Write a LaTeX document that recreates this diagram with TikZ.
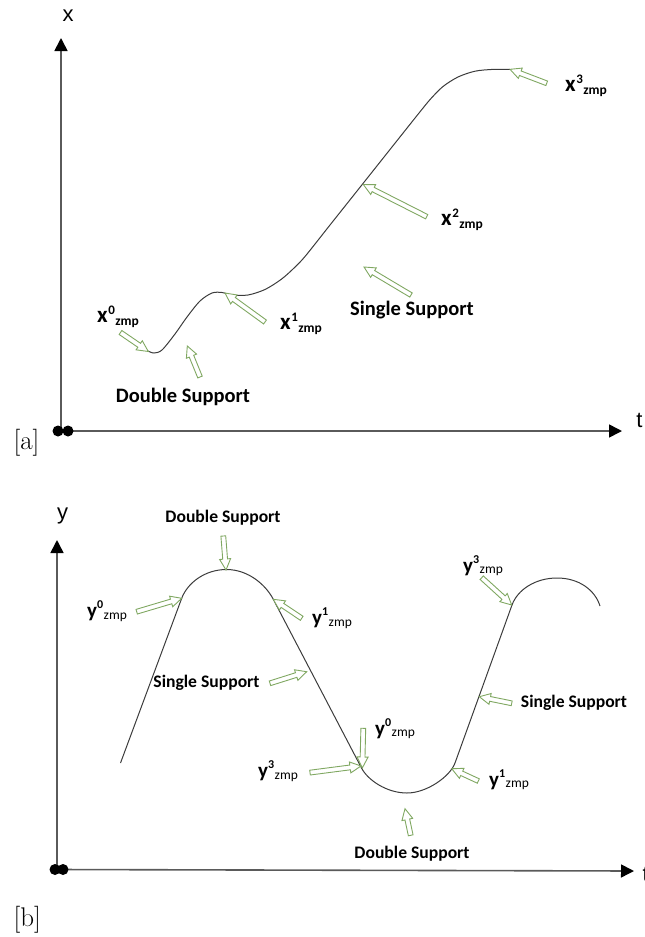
\documentclass[tikz,border=0pt]{standalone}
\usepackage{fontspec}
\newfontfamily\lblfont{Carlito}
\newfontfamily\axfont{Liberation Sans}
\usetikzlibrary{arrows.meta,calc}
\definecolor{garr}{RGB}{128,168,98}
\definecolor{curvec}{RGB}{60,60,60}
\definecolor{axisc}{RGB}{90,90,90}
\newcommand{\garrow}[2]{%
  \path let \p1=($(#2)-(#1)$) in \pgfextra{%
    \pgfmathparse{atan2(\y1,\x1)}\xdef\gAng{\pgfmathresult}%
    \pgfmathparse{veclen(\x1,\y1)}\xdef\gLen{\pgfmathresult}};
  \begin{scope}[shift={(#1)},rotate=\gAng]
    \draw[garrowline] (0pt,-2.4pt) -- ({\gLen pt-11pt},-2.4pt) -- ({\gLen pt-11pt},-5.5pt) -- (\gLen pt,0pt) -- ({\gLen pt-11pt},5.5pt) -- ({\gLen pt-11pt},2.4pt) -- (0pt,2.4pt) -- cycle;
  \end{scope}}
\newcommand{\zlA}[2]{{\bfseries\fontsize{23}{24}\selectfont #1}\hspace{0.5pt}\raisebox{8pt}{\bfseries\fontsize{13}{14}\selectfont #2}\hspace{0.5pt}\raisebox{-3pt}{\bfseries\fontsize{13.5}{14}\selectfont zmp}}
\newcommand{\zlB}[2]{{\bfseries\fontsize{21}{22}\selectfont #1}\raisebox{9pt}{\bfseries\fontsize{12}{13}\selectfont #2}\hspace{0.5pt}\raisebox{-1.5pt}{\fontsize{13.5}{14}\selectfont zmp}}
\begin{document}
\begin{tikzpicture}[x=1pt,y=-1pt,
  axisline/.style={line width=1.6pt, draw=axisc, -{Triangle[length=13pt,width=13pt,color=black]}},
  curveline/.style={line width=1pt, draw=curvec},
  garrowline/.style={draw=garr, line width=0.9pt, fill=white, line join=miter},
  bigtxt/.style={font=\lblfont\bfseries\fontsize{20.5}{22}\selectfont, inner sep=0pt},
  midtxt/.style={font=\lblfont\bfseries\fontsize{17.6}{19}\selectfont, inner sep=0pt},
  zlbl/.style={font=\lblfont, inner sep=0pt, anchor=base west},
  axlbl/.style={font=\axfont\fontsize{22}{24}\selectfont, inner sep=0pt, anchor=base},
  tagtxt/.style={font=\fontsize{27}{29}\selectfont, inner sep=0pt, anchor=base}]
\useasboundingbox (0,0) rectangle (645,937);
% ================= panel a =================
\coordinate (oa) at (61,431);
\coordinate (yta) at (61,38);
\coordinate (xta) at (622,431);
\draw[axisline] (oa) -- (yta);
\draw[axisline] (oa) -- (xta);
\fill (58,431) circle (5.5pt);
\fill (68,431) circle (5.5pt);
\node[axlbl] (labx) at (68,21) {x};
\node[axlbl] (labt) at (639.5,427) {t};
\node[tagtxt] (taga) at (26.5,449) {[a]};
\draw[curveline] plot[smooth, tension=0.5] coordinates {(148,351) (154,353) (162,350) (175,334) (187,317) (200,301) (212,293) (222,292.5) (232,295) (248,295) (265,289.5) (281,279.5) (293,269) (305,256.5) (330,225) (363,183.5) (395,143.2) (420,111.8) (431,98.5) (443,86.5) (458,77) (475,71.2) (493,69.4) (510,69.5)};
% arrows a
\coordinate (a0t) at (120.5,332.5); \coordinate (a0h) at (148.3,351.5);
\coordinate (aDt) at (200,377);     \coordinate (aDh) at (187.3,346);
\coordinate (a1t) at (265,322);     \coordinate (a1h) at (225,293);
\coordinate (aSt) at (411,295);     \coordinate (aSh) at (364,267);
\coordinate (a2t) at (426.7,216.7); \coordinate (a2h) at (363.3,184.5);
\coordinate (a3t) at (546.7,83.3);  \coordinate (a3h) at (510,69.3);
\garrow{a0t}{a0h}
\garrow{aDt}{aDh}
\garrow{a1t}{a1h}
\garrow{aSt}{aSh}
\garrow{a2t}{a2h}
\garrow{a3t}{a3h}
\node[zlbl] (x0) at (97,322.5) {\zlA{x}{0}};
\node[zlbl] (x1) at (280,329) {\zlA{x}{1}};
\node[zlbl] (x2) at (441,225) {\zlA{x}{2}};
\node[zlbl] (x3) at (565,91.5) {\zlA{x}{3}};
\node[bigtxt] (dsa) at (183,396.5) {Double Support};
\node[bigtxt] (ssa) at (412,310) {Single Support};
% ================= panel b =================
\coordinate (ob) at (57,869.5);
\coordinate (ytb) at (57,540);
\coordinate (xtb) at (634,871);
\draw[axisline] (ob) -- (ytb);
\draw[axisline] (ob) -- (xtb);
\fill (55,869.5) circle (5.5pt);
\fill (63,869.5) circle (5.5pt);
\node[axlbl] (laby) at (62.5,519.5) {y};
\node[axlbl, anchor=base west] (labtb) at (642.5,881) {t};
\node[tagtxt] (tagb) at (27.2,926) {[b]};
\draw[curveline] (120.5,763) -- (181.7,598.3)
  .. controls (187.3,583.3) and (204.5,569.5) .. (226.5,569.5)
  .. controls (248.5,569.5) and (265.9,585.1) .. (273.3,599.3)
  -- (361.5,768)
  .. controls (368,780.4) and (387,793) .. (407,793)
  .. controls (427,793) and (450.3,776.2) .. (455,763)
  -- (512,605)
  .. controls (517.4,590) and (535,578) .. (557,578)
  .. controls (579,578) and (595,590) .. (600,606);
% arrows b
\coordinate (bDt) at (223.3,536);   \coordinate (bDh) at (226,570);
\coordinate (b0t) at (136.7,611.7); \coordinate (b0h) at (181.7,598.3);
\coordinate (b1t) at (301.7,618.3); \coordinate (b1h) at (273.3,599.3);
\coordinate (bSt) at (270,683.3);   \coordinate (bSh) at (306.7,671.7);
\coordinate (bMt) at (363.3,728.3); \coordinate (bMh) at (362.3,768);
\coordinate (b3t) at (310,772.6);   \coordinate (b3h) at (361,766);
\coordinate (bEt) at (410.7,835.3); \coordinate (bEh) at (405,808.7);
\coordinate (bRt) at (478.3,781);   \coordinate (bRh) at (451.7,768.7);
\coordinate (bQt) at (511.7,703.3); \coordinate (bQh) at (479.3,696.7);
\coordinate (bTt) at (481.7,577.7); \coordinate (bTh) at (511.7,605);
\garrow{bDt}{bDh}
\garrow{b0t}{b0h}
\garrow{b1t}{b1h}
\garrow{bSt}{bSh}
\garrow{bMt}{bMh}
\garrow{b3t}{b3h}
\garrow{bEt}{bEh}
\garrow{bRt}{bRh}
\garrow{bQt}{bQh}
\garrow{bTt}{bTh}
\node[midtxt] (dsb1) at (223,517.5) {Double Support};
\node[midtxt] (ssb1) at (206.5,683.3) {Single Support};
\node[midtxt] (dsb2) at (412,853.5) {Double Support};
\node[midtxt] (ssb2) at (574,703.3) {Single Support};
\node[zlbl] (y0l) at (87,617.5) {\zlB{y}{0}};
\node[zlbl] (y1l) at (312,624.5) {\zlB{y}{1}};
\node[zlbl] (y0m) at (375,735) {\zlB{y}{0}};
\node[zlbl] (y3m) at (258,777.5) {\zlB{y}{3}};
\node[zlbl] (y1r) at (489,786) {\zlB{y}{1}};
\node[zlbl] (y3t) at (463,572) {\zlB{y}{3}};
\end{tikzpicture}
\end{document}
